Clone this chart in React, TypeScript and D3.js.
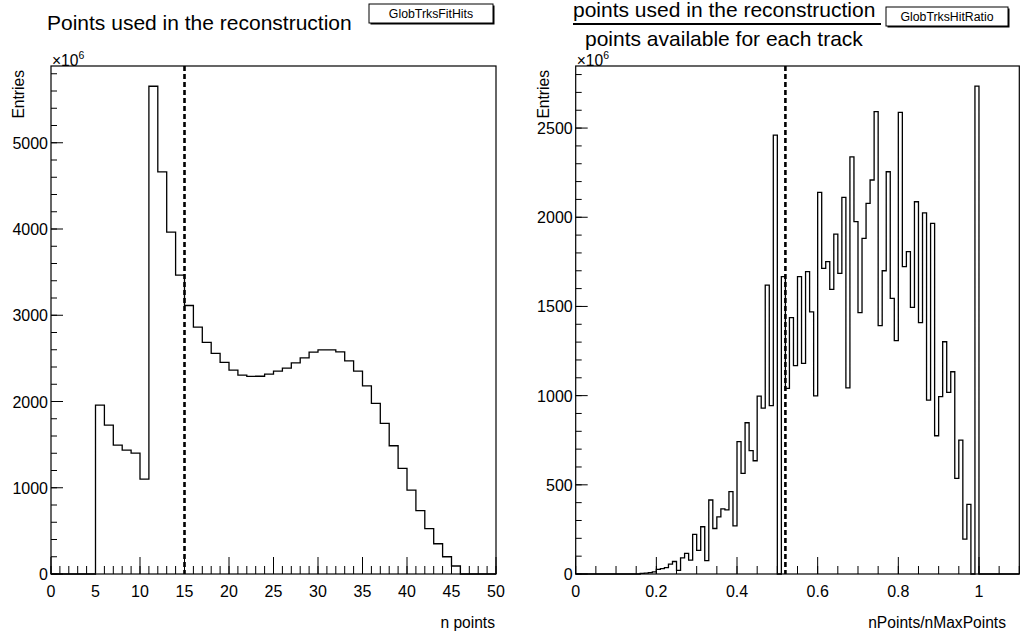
import React from 'react';
import * as d3 from 'd3';

// Left histogram: number of fit points, bins of width 1 from 0 to 50 (units of 10^6 entries)
const fitHitsStart = 0;
const fitHitsBinWidth = 1;
const fitHitsCounts = [
  0, 0, 0, 0, 0, 1958, 1727, 1495, 1437, 1402,
  1100, 5655, 4662, 3963, 3465, 3113, 2862, 2685, 2557, 2453,
  2364, 2306, 2291, 2293, 2318, 2352, 2387, 2449, 2506, 2572,
  2599, 2599, 2576, 2472, 2352, 2182, 1978, 1746, 1487, 1225,
  973, 734, 525, 351, 200, 93, 0, 0, 0, 0,
];
const fitHitsCut = 15;

// Right histogram: hit ratio, bins of width 0.01 from 0 to 1.1
const ratioStart = 0;
const ratioBinWidth = 0.01;
const ratioCounts = [
  0, 0, 0, 0, 0, 0, 0, 0, 0, 0,
  0, 0, 0, 0, 0, 0, 3, 5, 8, 12,
  26, 30, 36, 55, 70, 20, 90, 116, 78, 222,
  132, 265, 75, 415, 255, 320, 365, 360, 462, 270,
  742, 564, 848, 692, 635, 997, 930, 1620, 944, 2461,
  0, 1667, 1041, 1437, 1168, 1667, 1181, 1695, 1470, 999,
  2139, 1713, 1751, 1596, 1906, 1685, 2111, 1044, 2339, 1975,
  1465, 1882, 2078, 2209, 2592, 1392, 1700, 2255, 1545, 1308,
  2588, 1723, 1807, 1495, 2087, 1409, 2025, 975, 1966, 775,
  994, 1302, 1018, 1134, 536, 751, 195, 390, 0, 2735,
  0, 0, 0, 0, 0, 0, 0, 0, 0, 0,
];
const ratioCut = 0.52;

const leftXTicks = [0, 5, 10, 15, 20, 25, 30, 35, 40, 45, 50];
const leftYTicks = [0, 1000, 2000, 3000, 4000, 5000];
const rightXTicks = [0, 0.2, 0.4, 0.6, 0.8, 1];
const rightYTicks = [0, 500, 1000, 1500, 2000, 2500];

const FONT = "'Liberation Sans', Arial, Helvetica, sans-serif";

function stepPath(counts: number[], start: number, width: number, x: d3.ScaleLinear<number, number>, y: d3.ScaleLinear<number, number>) {
  const pts: [number, number][] = [];
  pts.push([x(start), y(0)]);
  counts.forEach((v, i) => {
    const x0 = start + i * width;
    const x1 = start + (i + 1) * width;
    pts.push([x(x0), y(v)]);
    pts.push([x(x1), y(v)]);
  });
  pts.push([x(start + counts.length * width), y(0)]);
  return d3.line()(pts) || '';
}

type PanelProps = {
  x: d3.ScaleLinear<number, number>;
  y: d3.ScaleLinear<number, number>;
  counts: number[];
  start: number;
  width: number;
  cut: number;
  xMajor: number[];
  xMinor: number[];
  yMajor: number[];
  yMinor: number[];
  xFmt: (v: number) => string;
  xTitle: string;
  xTitleX: number;
  entriesX: number;
};

function Panel(p: PanelProps) {
  const [x0, x1] = p.x.range();
  const [yb, yt] = p.y.range();
  return (
    <g>
      {p.xMinor.map((v, i) => (
        <line key={'xm' + i} x1={p.x(v)} x2={p.x(v)} y1={yb} y2={yb - 8} stroke="#000" strokeWidth={1} />
      ))}
      {p.xMajor.map((v, i) => (
        <line key={'xM' + i} x1={p.x(v)} x2={p.x(v)} y1={yb} y2={yb - 17} stroke="#000" strokeWidth={1} />
      ))}
      {p.yMinor.map((v, i) => (
        <line key={'ym' + i} x1={x0} x2={x0 + 6} y1={p.y(v)} y2={p.y(v)} stroke="#000" strokeWidth={1} />
      ))}
      {p.yMajor.map((v, i) => (
        <line key={'yM' + i} x1={x0} x2={x0 + 12} y1={p.y(v)} y2={p.y(v)} stroke="#000" strokeWidth={1} />
      ))}
      <path d={stepPath(p.counts, p.start, p.width, p.x, p.y)} fill="none" stroke="#000" strokeWidth={1.3} />
      <line x1={p.x(p.cut)} x2={p.x(p.cut)} y1={yt} y2={yb} stroke="#000" strokeWidth={2.6} strokeDasharray="5,3" />
      <rect x={x0} y={yt} width={x1 - x0} height={yb - yt} fill="none" stroke="#000" strokeWidth={1.2} />
      {p.xMajor.map((v, i) => (
        <text key={'xl' + i} x={p.x(v)} y={597} textAnchor="middle" fontSize={16} fontFamily={FONT}>{p.xFmt(v)}</text>
      ))}
      {p.yMajor.map((v, i) => (
        <text key={'yl' + i} x={x0 - 3} y={p.y(v) + 6} textAnchor="end" fontSize={16} fontFamily={FONT}>{String(v)}</text>
      ))}
      <text x={p.xTitleX} y={628} textAnchor="end" fontSize={15.6} fontFamily={FONT}>{p.xTitle}</text>
      <text transform={`translate(${p.entriesX},70) rotate(-90)`} textAnchor="end" fontSize={15.6} fontFamily={FONT}>Entries</text>
      <text x={x0 + 1} y={66} fontSize={15.6} fontFamily={FONT}>
        ×10<tspan fontSize={10.5} dy={-7}>6</tspan>
      </text>
    </g>
  );
}

function StatBox({ x, y, w, h, label }: { x: number; y: number; w: number; h: number; label: string }) {
  return (
    <g>
      <rect x={x + 1.5} y={y + 1.5} width={w} height={h} fill="#000" />
      <rect x={x} y={y} width={w} height={h} fill="#fff" stroke="#000" strokeWidth={1} />
      <text x={x + w / 2} y={y + h / 2 + 4.3} textAnchor="middle" fontSize={12.3} fontFamily={FONT}>{label}</text>
    </g>
  );
}

export default function App() {
  const xL = d3.scaleLinear().domain([0, 50]).range([51, 496]);
  const yL = d3.scaleLinear().domain([0, 5890]).range([574, 66]);
  const xR = d3.scaleLinear().domain([0, 1.1]).range([575.7, 1019.3]);
  const yR = d3.scaleLinear().domain([0, 2848]).range([574, 66]);

  const fmt = d3.format('~g');

  return (
    <div style={{ position: 'absolute', left: 0, top: 0 }}>
      <svg width={1021} height={636} style={{ display: 'block', background: '#fff' }}>
        <rect x={0} y={0} width={1021} height={636} fill="#fff" />
        <Panel
          x={xL}
          y={yL}
          counts={fitHitsCounts}
          start={fitHitsStart}
          width={fitHitsBinWidth}
          cut={fitHitsCut}
          xMajor={leftXTicks}
          xMinor={d3.range(0, 50.001, 1)}
          yMajor={leftYTicks}
          yMinor={d3.range(0, 5890, 200)}
          xFmt={fmt}
          xTitle="n points"
          xTitleX={495}
          entriesX={24}
        />
        <Panel
          x={xR}
          y={yR}
          counts={ratioCounts}
          start={ratioStart}
          width={ratioBinWidth}
          cut={ratioCut}
          xMajor={rightXTicks}
          xMinor={d3.range(0, 1.1001, 0.05)}
          yMajor={rightYTicks}
          yMinor={d3.range(0, 2848, 100)}
          xFmt={fmt}
          xTitle="nPoints/nMaxPoints"
          xTitleX={1006}
          entriesX={549}
        />
        <text x={47} y={30} fontSize={21} fontFamily={FONT}>Points used in the reconstruction</text>
        <StatBox x={369} y={4} w={124} h={19} label="GlobTrksFitHits" />
        <text x={573} y={16.5} fontSize={21} fontFamily={FONT}>points used in the reconstruction</text>
        <line x1={573} x2={881} y1={24} y2={24} stroke="#000" strokeWidth={2} />
        <text x={585} y={46} fontSize={21} fontFamily={FONT}>points available for each track</text>
        <StatBox x={886} y={7} w={122} h={19} label="GlobTrksHitRatio" />
      </svg>
    </div>
  );
}
